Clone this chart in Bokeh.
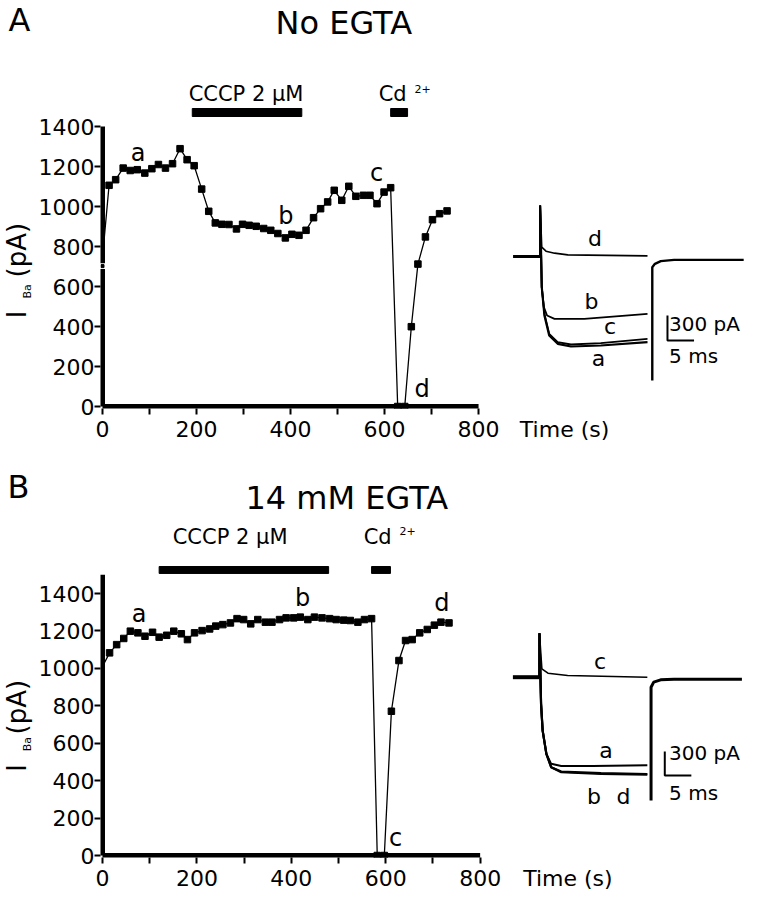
import math
from bokeh.plotting import figure
from bokeh.models import Range1d, FixedTicker
from bokeh.layouts import column, row
from bokeh.embed import file_html
from bokeh.resources import INLINE
from bokeh.core.properties import value

FONT = "DejaVu Sans"

# ---------------- Panel A : No EGTA (time course, s / pA) ----------------
a_time = [0, 14, 28, 44, 59, 74, 90, 105, 119, 134, 149, 165, 180, 195, 211, 226, 240, 254, 269, 285,
          298, 312, 327, 343, 358, 373, 389, 403, 418, 433, 449, 464, 479, 493, 509, 524, 539, 555, 569, 584,
          599, 613, 628, 643, 657, 671, 687, 702, 717, 733]
a_current = [745, 1106, 1134, 1192, 1180, 1184, 1167, 1189, 1210, 1192, 1214, 1289, 1234, 1204, 1087, 976, 918, 911, 910, 888,
             911, 906, 901, 890, 881, 865, 843, 861, 856, 881, 944, 989, 1023, 1081, 1031, 1101, 1051, 1056, 1056, 1014,
             1072, 1094, 0, 0, 399, 712, 848, 934, 964, 978]
a_bar_start = [191, 613]      # CCCP 2 uM, Cd2+
a_bar_end = [424, 649]
a_bar_level = 1470

# Panel A current traces (ms / pA)
trA_hold_t = [-5.1, 0.0]
trA_hold_i = [0, 0]
trA_d_t = [0, 0, 0.3, 1.1, 2.7, 5.2, 20.2]
trA_d_i = [0, 612, 112, 64, 40, 20, 8]
trA_b_t = [0, 0, 0.3, 0.7, 1.3, 2.7, 8.3, 20.2]
trA_b_i = [0, 612, -368, -608, -708, -748, -748, -688]
trA_c_t = [0, 0, 0.3, 0.8, 1.7, 3.3, 5.8, 11.4, 20.2]
trA_c_i = [0, 612, -368, -688, -928, -1028, -1056, -1040, -988]
trA_a_t = [0, 0, 0.3, 0.8, 1.7, 3.3, 5.8, 11.4, 20.2]
trA_a_i = [0, 612, -368, -708, -948, -1048, -1080, -1068, -1028]
trA_tail_t = [21.1, 21.1, 21.6, 22.7, 25.2, 38.3]
trA_tail_i = [-1488, -128, -88, -56, -40, -40]

# ---------------- Panel B : 14 mM EGTA ----------------
b_time = [0, 15, 30, 45, 59, 75, 90, 106, 120, 136, 151, 167, 180, 195, 211, 227, 240, 255, 271, 285,
          299, 314, 329, 345, 359, 375, 389, 405, 419, 435, 449, 465, 481, 495, 511, 525, 541, 555, 570, 582,
          597, 612, 628, 642, 656, 672, 688, 703, 717, 734]
b_current = [1010, 1083, 1127, 1160, 1199, 1190, 1172, 1193, 1167, 1177, 1199, 1185, 1154, 1190, 1202, 1211, 1226, 1234, 1243, 1266,
             1261, 1238, 1261, 1247, 1247, 1261, 1270, 1270, 1274, 1261, 1274, 1270, 1266, 1261, 1258, 1256, 1247, 1261, 1266, 0,
             0, 771, 1042, 1149, 1154, 1190, 1208, 1231, 1247, 1243]
b_bar_start = [120, 570]
b_bar_end = [479, 610]
b_bar_level = 1526

trB_hold_t = [-5.0, 0.0]
trB_hold_i = [0, 0]
trB_c_t = [0, 0, 0.45, 1.6, 5.3, 20.3]
trB_c_i = [0, 550, 105, 50, 21, 0]
trB_a_t = [0, 0, 0.3, 0.6, 1.3, 2.2, 4.1, 10.0, 20.3]
trB_a_i = [0, 550, -333, -667, -958, -1083, -1110, -1110, -1100]
trB_b_t = [0, 0, 0.3, 0.6, 1.3, 2.2, 4.1, 11.6, 20.3]
trB_b_i = [0, 550, -333, -667, -958, -1125, -1188, -1208, -1217]
trB_d_t = [0, 0, 0.3, 0.6, 1.3, 2.2, 4.1, 11.6, 20.3]
trB_d_i = [0, 550, -333, -667, -958, -1125, -1180, -1200, -1210]
trB_tail_t = [21.0, 21.0, 21.5, 22.8, 25.3, 38.1]
trB_tail_i = [-1542, -125, -62, -33, -25, -25]

# axes / scale bars
x_ticks = [0, 200, 400, 600, 800]
x_minor = [0, 100, 200, 300, 400, 500, 600, 700, 800]
y_ticks = [0, 200, 400, 600, 800, 1000, 1200, 1400]
a_y_top = 1400
a_y_break = (688, 716)
b_y_top = 1500
scale_ms = 5
scale_pa = 300

PAGE_W = 757
LEFT_W = 35
EM_SHIFT = 0.4   # renderer places the alphabetic baseline ~0.4 em below the anchor


def put(p, conv, rx, ry, text, size, align="left", rotated=False, dy=0.0):
    """rx, ry: page position of the text on its baseline (dy: measured renderer correction)."""
    if rotated:
        rx = rx - EM_SHIFT * size
        ry = ry + dy
        angle = math.pi / 2
        align = "center"
    else:
        ry = ry - EM_SHIFT * size
        angle = 0.0
    x, y = conv(rx, ry)
    p.text(x=[x], y=[y], text=[text], text_font=value(FONT), text_font_size=value(f"{size}px"),
           text_align=align, text_baseline="alphabetic", angle=angle, text_color="black")


def left_strip(fig_top, height):
    L = figure(width=LEFT_W, height=height, x_range=Range1d(0, LEFT_W),
               y_range=Range1d(0, height), min_border=0,
               x_axis_type=None, y_axis_type=None, output_backend="svg", toolbar_location=None)
    L.outline_line_color = None
    L.grid.visible = False

    def conv(rx, ry):
        return rx, fig_top + height - ry
    return L, conv


def setup(fig_top, height, x0_ref, x_px, y0_ref, y_px, ms0_ref, ms_px, pa0_ref, pa_per_px, time_tick):
    frame_left = x0_ref - 2
    frame_bottom = y0_ref + 2
    p = figure(width=PAGE_W - LEFT_W, height=height,
               x_range=Range1d((frame_left - x0_ref) / x_px, (PAGE_W - x0_ref) / x_px),
               y_range=Range1d((y0_ref - frame_bottom) / y_px, (y0_ref - fig_top) / y_px),
               min_border_left=int(frame_left - LEFT_W), min_border_right=0, min_border_top=0,
               min_border_bottom=int(fig_top + height - frame_bottom),
               output_backend="svg", toolbar_location=None)
    p.extra_x_ranges = {"ms": Range1d((frame_left - ms0_ref) / ms_px, (PAGE_W - ms0_ref) / ms_px)}
    p.extra_y_ranges = {"pa": Range1d((pa0_ref - frame_bottom) * pa_per_px, (pa0_ref - fig_top) * pa_per_px)}
    p.grid.visible = False
    p.outline_line_color = None

    xa = p.xaxis[0]
    ya = p.yaxis[0]
    for ax in (xa, ya):
        ax.axis_line_color = None
        ax.major_label_text_font = FONT
        ax.major_label_text_font_size = "22px"
        ax.major_label_text_color = "black"
        ax.major_tick_in = 0
        ax.major_tick_out = 6
        ax.major_tick_line_width = 2
        ax.major_tick_line_color = "black"
        ax.minor_tick_in = 0
    xa.ticker = FixedTicker(ticks=x_ticks + [time_tick], minor_ticks=x_minor)
    xa.major_label_overrides = {time_tick: "Time (s)"}
    xa.major_tick_line_color = None
    xa.minor_tick_out = 6
    xa.minor_tick_line_width = 2
    xa.minor_tick_line_color = "black"
    xa.major_label_standoff = 2
    ya.ticker = FixedTicker(ticks=y_ticks)
    ya.minor_tick_line_color = None
    ya.major_label_standoff = 0

    def conv(rx, ry):
        return (rx - x0_ref) / x_px, (y0_ref - ry) / y_px

    def to_ms(rx):
        return (rx - ms0_ref) / ms_px

    def to_pa(ry):
        return (pa0_ref - ry) * pa_per_px

    return p, conv, to_ms, to_pa


def draw_traces(p, traces):
    for t, i, w in traces:
        p.line(t, i, x_range_name="ms", y_range_name="pa", line_color="black", line_width=w)


# ======== Panel A ========
A_TOP, A_H = 0, 456
LA, cLA = left_strip(A_TOP, A_H)
pA, cA, msA, paA = setup(A_TOP, A_H, 100, 0.4715, 406, 0.2, 539, 5.33, 256, 12, 983)
pA.line([0, x_ticks[-1]], [0, 0], line_color="black", line_width=5)
pA.line([0, 0], [0, a_y_break[0]], line_color="black", line_width=5)
pA.line([0, 0], [a_y_break[1], a_y_top], line_color="black", line_width=5)
pA.scatter([0], [sum(a_y_break) / 2], marker="square", size=3, color="black")

pA.line(a_time, a_current, line_color="black", line_width=1.3)
pA.scatter(a_time[1:], a_current[1:], marker="square", size=6.5, color="black")
pA.hbar(y=[a_bar_level] * len(a_bar_start), left=a_bar_start, right=a_bar_end, height=40, color="black")
draw_traces(pA, [(trA_hold_t, trA_hold_i, 3), (trA_d_t, trA_d_i, 1.6), (trA_b_t, trA_b_i, 1.8),
                 (trA_c_t, trA_c_i, 1.8), (trA_a_t, trA_a_i, 2.2), (trA_tail_t, trA_tail_i, 2.4)])
cmA, cpA = msA(666.7), paA(340)
pA.line([cmA, cmA, cmA + scale_ms], [cpA + scale_pa, cpA, cpA], x_range_name="ms", y_range_name="pa",
        line_color="black", line_width=2)

put(LA, cLA, 8, 35, "A", 32)
put(LA, cLA, 27, 309, "I", 27, rotated=True, dy=42)
put(LA, cLA, 31.5, 293, "Ba", 11, rotated=True, dy=32)
put(LA, cLA, 26.5, 244, "(pA)", 26, rotated=True, dy=35)

put(pA, cA, 342, 35, "No EGTA", 32, "center")
put(pA, cA, 244, 102, "CCCP 2 \u03bcM", 21, "center")
put(pA, cA, 377, 102, "Cd", 21)
put(pA, cA, 413, 93, "2+", 11)
for rx, ry, t in [(135.7, 161.7, "a"), (284, 225, "b"), (375, 181.7, "c"), (420.7, 398.3, "d")]:
    put(pA, cA, rx, ry, t, 24, "center")
for rx, ry, t in [(594, 246.7, "d"), (590.5, 310, "b"), (609, 335, "c"), (597.5, 366.7, "a")]:
    put(pA, cA, rx, ry, t, 22, "center")
put(pA, cA, 668.3, 331.7, "300 pA", 20)
put(pA, cA, 668.3, 363.3, "5 ms", 20)

# ======== Panel B ========
B_TOP, B_H = 456, 444
LB, cLB = left_strip(B_TOP, B_H)
pB, cB, msB, paB = setup(B_TOP, B_H, 100, 0.4735, 855, 0.1871, 538.3, 5.33, 676.7, 12.5, 986)
pB.line([0, x_ticks[-1]], [0, 0], line_color="black", line_width=5)
pB.line([0, 0], [0, b_y_top], line_color="black", line_width=5)

pB.line(b_time, b_current, line_color="black", line_width=1.3)
pB.scatter(b_time[1:], b_current[1:], marker="square", size=6.5, color="black")
pB.hbar(y=[b_bar_level] * len(b_bar_start), left=b_bar_start, right=b_bar_end, height=37, color="black")
draw_traces(pB, [(trB_hold_t, trB_hold_i, 4), (trB_c_t, trB_c_i, 1.6), (trB_a_t, trB_a_i, 2.0),
                 (trB_b_t, trB_b_i, 2.2), (trB_d_t, trB_d_i, 2.2), (trB_tail_t, trB_tail_i, 3)])
cmB, cpB = msB(664), paB(775)
pB.line([cmB, cmB, cmB + scale_ms], [cpB + scale_pa, cpB, cpB], x_range_name="ms", y_range_name="pa",
        line_color="black", line_width=2)

put(LB, cLB, 7, 503, "B", 32)
put(LB, cLB, 27, 759, "I", 27, rotated=True, dy=42)
put(LB, cLB, 31.5, 742.5, "Ba", 11, rotated=True, dy=32)
put(LB, cLB, 26.5, 698.5, "(pA)", 26, rotated=True, dy=35)

put(pB, cB, 345, 510, "14 mM EGTA", 32, "center")
put(pB, cB, 228, 545, "CCCP 2 \u03bcM", 21, "center")
put(pB, cB, 362, 545, "Cd", 21)
put(pB, cB, 398, 535, "2+", 11)
for rx, ry, t in [(136.7, 623.3, "a"), (300.7, 606.7, "b"), (394, 847.3, "c"), (440.3, 611.7, "d")]:
    put(pB, cB, rx, ry, t, 24, "center")
for rx, ry, t in [(599, 670, "c"), (605, 758.3, "a"), (593, 805, "b"), (622.5, 805, "d")]:
    put(pB, cB, rx, ry, t, 22, "center")
put(pB, cB, 668.3, 760, "300 pA", 20)
put(pB, cB, 668.3, 800, "5 ms", 20)

layout = column(row(LA, pA), row(LB, pB))
with open("out.html", "w") as f:
    f.write(file_html(layout, INLINE))
